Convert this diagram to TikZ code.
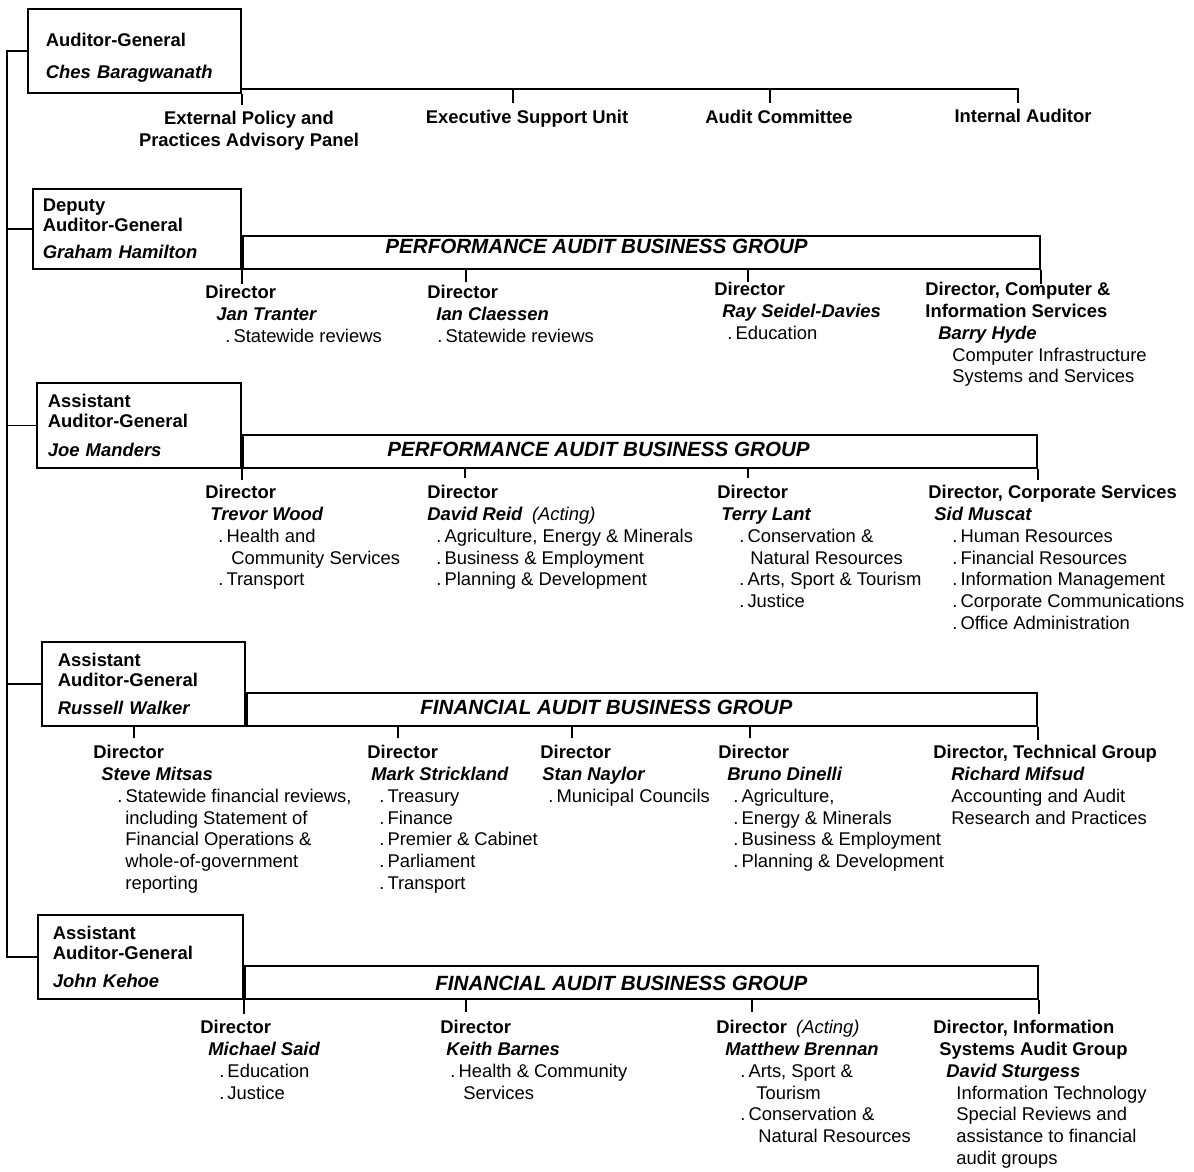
\documentclass[tikz,border=0pt]{standalone}
\usepackage{fontspec}
\setmainfont{Liberation Sans}

\newcommand{\dirn}[1]{\textbf{#1}}
\newcommand{\who}[1]{\textbf{\textit{#1}}}
\newcommand{\ind}[1]{\hspace*{#1pt}}
\newcommand{\bul}{.\kern1.5pt}

\tikzset{
  every node/.style={inner sep=0pt, font=\fontsize{9.2}{10.9}\selectfont},
  wire/.style={line width=0.9pt},
  headbox/.style={draw, line width=0.9pt, anchor=north west, align=left, inner ysep=0pt,
    font=\fontsize{9.2}{10.2}\selectfont\bfseries},
  groupbar/.style={draw, line width=0.9pt, anchor=south west, minimum height=16.5pt},
  bartitle/.style={anchor=base west, font=\fontsize{10.3}{12}\selectfont\bfseries\itshape},
  unitlabel/.style={align=center, font=\fontsize{9.2}{10.9}\selectfont\bfseries},
  dirblock/.style={anchor=north west, align=left},
}

\begin{document}
\begin{tikzpicture}[x=0.5pt,y=-0.5pt]
\useasboundingbox (0,0) rectangle (1194,1172);

% Auditor-General and the units reporting to the office
\node[headbox, text width=88.5pt, inner xsep=9pt, minimum height=42pt] (ag) at (27,8)
  {\rule{0pt}{13.7pt}Auditor-General\\[5.8pt]\textit{Ches Baragwanath}};
\node[unitlabel, anchor=north] (epp) at (249,111) {External Policy and\\Practices Advisory Panel};
\node[unitlabel, anchor=base] (esu) at (527,124) {Executive Support Unit};
\node[unitlabel, anchor=base] (acm) at (779,124) {Audit Committee};
\node[unitlabel, anchor=base] (iau) at (1023,123) {Internal Auditor};

\coordinate (tr) at (1018,89);
\coordinate (k02) at (513,89);
\coordinate (k03) at (770,89);
\draw[wire] (ag.east |- tr) -- (tr) -- ++(0,14);
\draw[wire] (ag.south east) -- ++(0,11);
\draw[wire] (k02) -- ++(0,14);
\draw[wire] (k03) -- ++(0,14);

% Deputy Auditor-General
\node[headbox, text width=94pt, inner xsep=5pt, minimum height=40pt] (dag) at (32,188)
  {Deputy\\Auditor-General\\[3.3pt]\textit{Graham Hamilton}\\[-3pt]};
\node[groupbar, minimum width=398.5pt] (pag1) at (dag.south east) {};
\node[bartitle] (pt1) at (385,253) {PERFORMANCE AUDIT BUSINESS GROUP};

\node[dirblock] (d11) at (205,285) {\dirn{Director}\\\ind{5.5}\who{Jan Tranter}\\\ind{10}\bul Statewide reviews};
\node[dirblock] (d12) at (427,285) {\dirn{Director}\\\ind{4.5}\who{Ian Claessen}\\\ind{5}\bul Statewide reviews};
\node[dirblock] (d13) at (714,282) {\dirn{Director}\\\ind{4}\who{Ray Seidel-Davies}\\\ind{6.5}\bul Education};
\node[dirblock] (d14) at (925,282) {\dirn{Director, Computer \&}\\\dirn{Information Services}\\\ind{6.5}\who{Barry Hyde}\\
  \ind{13.5}Computer Infrastructure\\\ind{13.5}Systems and Services};

\coordinate (k12) at (466,268);
\coordinate (k13) at (748,268);
\draw[wire] (dag.south east) -- ++(0,14);
\draw[wire] (k12) -- ++(0,14);
\draw[wire] (k13) -- ++(0,14);
\draw[wire] (pag1.south east) -- ++(0,14);

% Assistant Auditor-General, performance audit
\node[headbox, text width=91pt, inner xsep=5.5pt, minimum height=42.5pt] (aag1) at (36,382)
  {Assistant\\Auditor-General\\[4pt]\textit{Joe Manders}};
\node[groupbar, minimum width=397pt] (pag2) at (aag1.south east) {};
\node[bartitle] (pt2) at (387,456) {PERFORMANCE AUDIT BUSINESS GROUP};

\node[dirblock] (d21) at (205,485) {\dirn{Director}\\\ind{2.5}\who{Trevor Wood}\\\ind{6.5}\bul Health and\\
  \ind{13}Community Services\\\ind{6.5}\bul Transport};
\node[dirblock] (d22) at (427,485) {\dirn{Director}\\\who{David Reid}\enspace\textit{(Acting)}\\
  \ind{4.5}\bul Agriculture, Energy \& Minerals\\\ind{4.5}\bul Business \& Employment\\\ind{4.5}\bul Planning \& Development};
\node[dirblock] (d23) at (717,485) {\dirn{Director}\\\ind{2}\who{Terry Lant}\\\ind{11}\bul Conservation \&\\
  \ind{16.5}Natural Resources\\\ind{11}\bul Arts, Sport \& Tourism\\\ind{11}\bul Justice};
\node[dirblock] (d24) at (928,485) {\dirn{Director, Corporate Services}\\\ind{3}\who{Sid Muscat}\\
  \ind{12}\bul Human Resources\\\ind{12}\bul Financial Resources\\\ind{12}\bul Information Management\\
  \ind{12}\bul Corporate Communications\\\ind{12}\bul Office Administration};

\coordinate (k22) at (465,467);
\coordinate (k23) at (748,467);
\draw[wire] (aag1.south east) -- ++(0,11);
\draw[wire] (k22) -- ++(0,11);
\draw[wire] (k23) -- ++(0,11);
\draw[wire] (pag2.south east) -- ++(0,11);

% Assistant Auditor-General, financial audit
\node[headbox, text width=85.5pt, inner xsep=8pt, minimum height=42pt] (aag2) at (41,641)
  {Assistant\\Auditor-General\\[4pt]\textit{Russell Walker}};
\node[groupbar, minimum width=395pt] (fag3) at (aag2.south east) {};
\node[bartitle] (ft3) at (420,714) {FINANCIAL AUDIT BUSINESS GROUP};

\node[dirblock] (d31) at (93,745) {\dirn{Director}\\\ind{4}\who{Steve Mitsas}\\\ind{12}\bul Statewide financial reviews,\\
  \ind{16}including Statement of\\\ind{16}Financial Operations \&\\\ind{16}whole-of-government\\\ind{16}reporting};
\node[dirblock] (d32) at (367,745) {\dirn{Director}\\\ind{2}\who{Mark Strickland}\\\ind{6}\bul Treasury\\\ind{6}\bul Finance\\
  \ind{6}\bul Premier \& Cabinet\\\ind{6}\bul Parliament\\\ind{6}\bul Transport};
\node[dirblock] (d33) at (540,745) {\dirn{Director}\\\ind{1}\who{Stan Naylor}\\\ind{4}\bul Municipal Councils};
\node[dirblock] (d34) at (718,745) {\dirn{Director}\\\ind{4.5}\who{Bruno Dinelli}\\\ind{7.5}\bul Agriculture,\\
  \ind{7.5}\bul Energy \& Minerals\\\ind{7.5}\bul Business \& Employment\\\ind{7.5}\bul Planning \& Development};
\node[dirblock] (d35) at (933,745) {\dirn{Director, Technical Group}\\\ind{9}\who{Richard Mifsud}\\
  \ind{9}Accounting and Audit\\\ind{9}Research and Practices};

\coordinate (k31) at (134,725);
\coordinate (k32) at (398,725);
\coordinate (k33) at (572,725);
\coordinate (k34) at (750,725);
\draw[wire] (k31) -- ++(0,13);
\draw[wire] (k32) -- ++(0,13);
\draw[wire] (k33) -- ++(0,13);
\draw[wire] (k34) -- ++(0,13);
\draw[wire] (fag3.south east) -- ++(0,13);

% Assistant Auditor-General, financial audit (second group)
\node[headbox, text width=87.5pt, inner xsep=7.5pt, minimum height=42pt] (aag3) at (37,914)
  {Assistant\\Auditor-General\\[4pt]\textit{John Kehoe}};
\node[groupbar, minimum width=396.5pt] (fag4) at (aag3.south east) {};
\node[bartitle] (ft4) at (435,990) {FINANCIAL AUDIT BUSINESS GROUP};

\node[dirblock] (d41) at (200,1020) {\dirn{Director}\\\ind{4}\who{Michael Said}\\\ind{9.5}\bul Education\\\ind{9.5}\bul Justice};
\node[dirblock] (d42) at (440,1020) {\dirn{Director}\\\ind{3}\who{Keith Barnes}\\\ind{5}\bul Health \& Community\\
  \ind{11.5}Services};
\node[dirblock] (d43) at (716,1020) {\dirn{Director}\enspace\textit{(Acting)}\\\ind{4.5}\who{Matthew Brennan}\\
  \ind{12}\bul Arts, Sport \&\\\ind{20}Tourism\\\ind{12}\bul Conservation \&\\\ind{21}Natural Resources};
\node[dirblock] (d44) at (933,1020) {\dirn{Director, Information}\\\ind{3}\dirn{Systems Audit Group}\\\ind{6.5}\who{David Sturgess}\\
  \ind{11.5}Information Technology\\\ind{11.5}Special Reviews and\\\ind{11.5}assistance to financial\\\ind{11.5}audit groups};

\coordinate (k42) at (466,998);
\coordinate (k43) at (752,998);
\draw[wire] (aag3.south east) -- ++(0,14);
\draw[wire] (k42) -- ++(0,14);
\draw[wire] (k43) -- ++(0,14);
\draw[wire] (fag4.south east) -- ++(0,14);

% line down the left side joining the heads
\coordinate (sp) at (7,0);
\draw[wire] (ag.west) -- (ag.west -| sp) -- (aag3.west -| sp) -- (aag3.west);
\draw[wire] (dag.west -| sp) -- (dag.west);
\draw[wire] (aag1.west -| sp) -- (aag1.west);
\draw[wire] (aag2.west -| sp) -- (aag2.west);

\end{tikzpicture}
\end{document}
